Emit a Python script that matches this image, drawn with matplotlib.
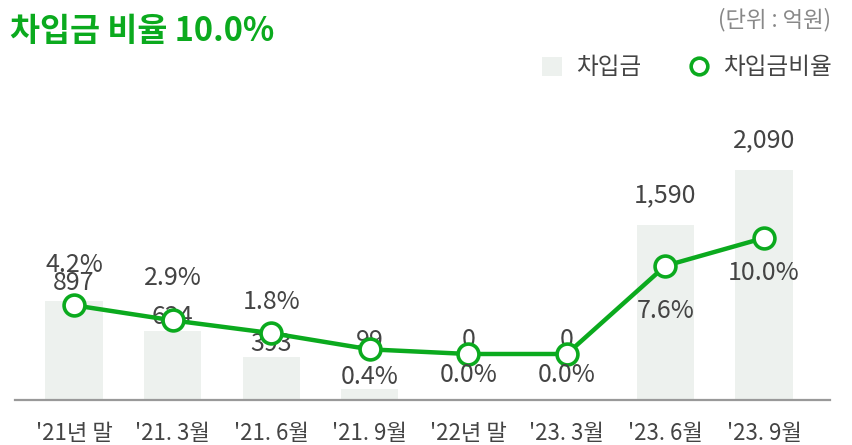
import matplotlib
matplotlib.use("Agg")
import matplotlib.pyplot as plt
from matplotlib.lines import Line2D
from matplotlib.patches import Patch

plt.rcParams['font.family'] = ['Noto Sans CJK KR', 'DejaVu Sans']

categories = ["'21년 말", "'21. 3월", "'21. 6월", "'21. 9월", "'22년 말", "'23. 3월", "'23. 6월", "'23. 9월"]
borrowings = [897, 624, 393, 99, 0, 0, 1590, 2090]
ratio = [4.2, 2.9, 1.8, 0.4, 0.0, 0.0, 7.6, 10.0]
title_text = "차입금 비율 10.0%"
unit_text = "(단위 : 억원)"

# label offsets in pixels (style only)
bar_label_dy = [18, 14, 13, 48, 60, 60, 30, 30]
ratio_label_dy = [40, 42, 31, -28, -21, -21, -45, -35]

GREEN = '#0BAA1E'
BAR = '#EDF1EE'
TXT = '#444444'

W, H = 852, 445
fig = plt.figure(figsize=(W/100, H/100), dpi=100)
ax = fig.add_axes([15/W, (H-400)/H, (830-15)/W, (400-120)/H])
x = list(range(len(categories)))
ax.bar(x, borrowings, width=0.58, color=BAR, label='차입금', zorder=1)
ax.set_xlim(-0.599, 7.67)
ax.set_ylim(0, 2544)
for s in ['top', 'right', 'left']:
    ax.spines[s].set_visible(False)
ax.spines['bottom'].set_color('#999999')
ax.spines['bottom'].set_linewidth(1.6)
ax.set_yticks([])
ax.set_xticks(x)
ax.set_xticklabels(categories, fontsize=16, color=TXT)
ax.tick_params(axis='x', length=0, pad=16)

for xi, v, dy in zip(x, borrowings, bar_label_dy):
    ax.annotate(f"{v:,}", (xi, v), xytext=(0, dy), textcoords='offset pixels',
                ha='center', va='center', fontsize=18, color=TXT, zorder=5)

ax2 = ax.twinx()
ax2.set_ylim(-3.966, 20.17)
ax2.axis('off')
ax2.plot(x, ratio, color=GREEN, lw=3.2, marker='o', ms=15, mfc='white',
         mec=GREEN, mew=2.6, label='차입금비율', zorder=3)
for xi, v, dy in zip(x, ratio, ratio_label_dy):
    ax2.annotate(f"{v:.1f}%", (xi, v), xytext=(0, dy), textcoords='offset pixels',
                 ha='center', va='center', fontsize=18, color=TXT, zorder=5)

fig.text(10/W, 1-31/H, title_text, fontsize=23.5, fontweight='bold', color=GREEN,
         ha='left', va='center')
fig.text(831/W, 1-20/H, unit_text, fontsize=16, color='#888888', ha='right', va='center')

handles = [Patch(facecolor=BAR, edgecolor='none'),
           Line2D([], [], color=GREEN, lw=0, marker='o', ms=12, mfc='white', mec=GREEN, mew=2.6)]
leg = fig.legend(handles, ['차입금', '차입금비율'], ncol=2, frameon=False,
                 loc='center right', bbox_to_anchor=(853/W, 1-68/H),
                 fontsize=17, handlelength=0.85, handleheight=0.85, handletextpad=0.6,
                 columnspacing=2.0, labelcolor=TXT)

fig.savefig('out.png', dpi=100)
